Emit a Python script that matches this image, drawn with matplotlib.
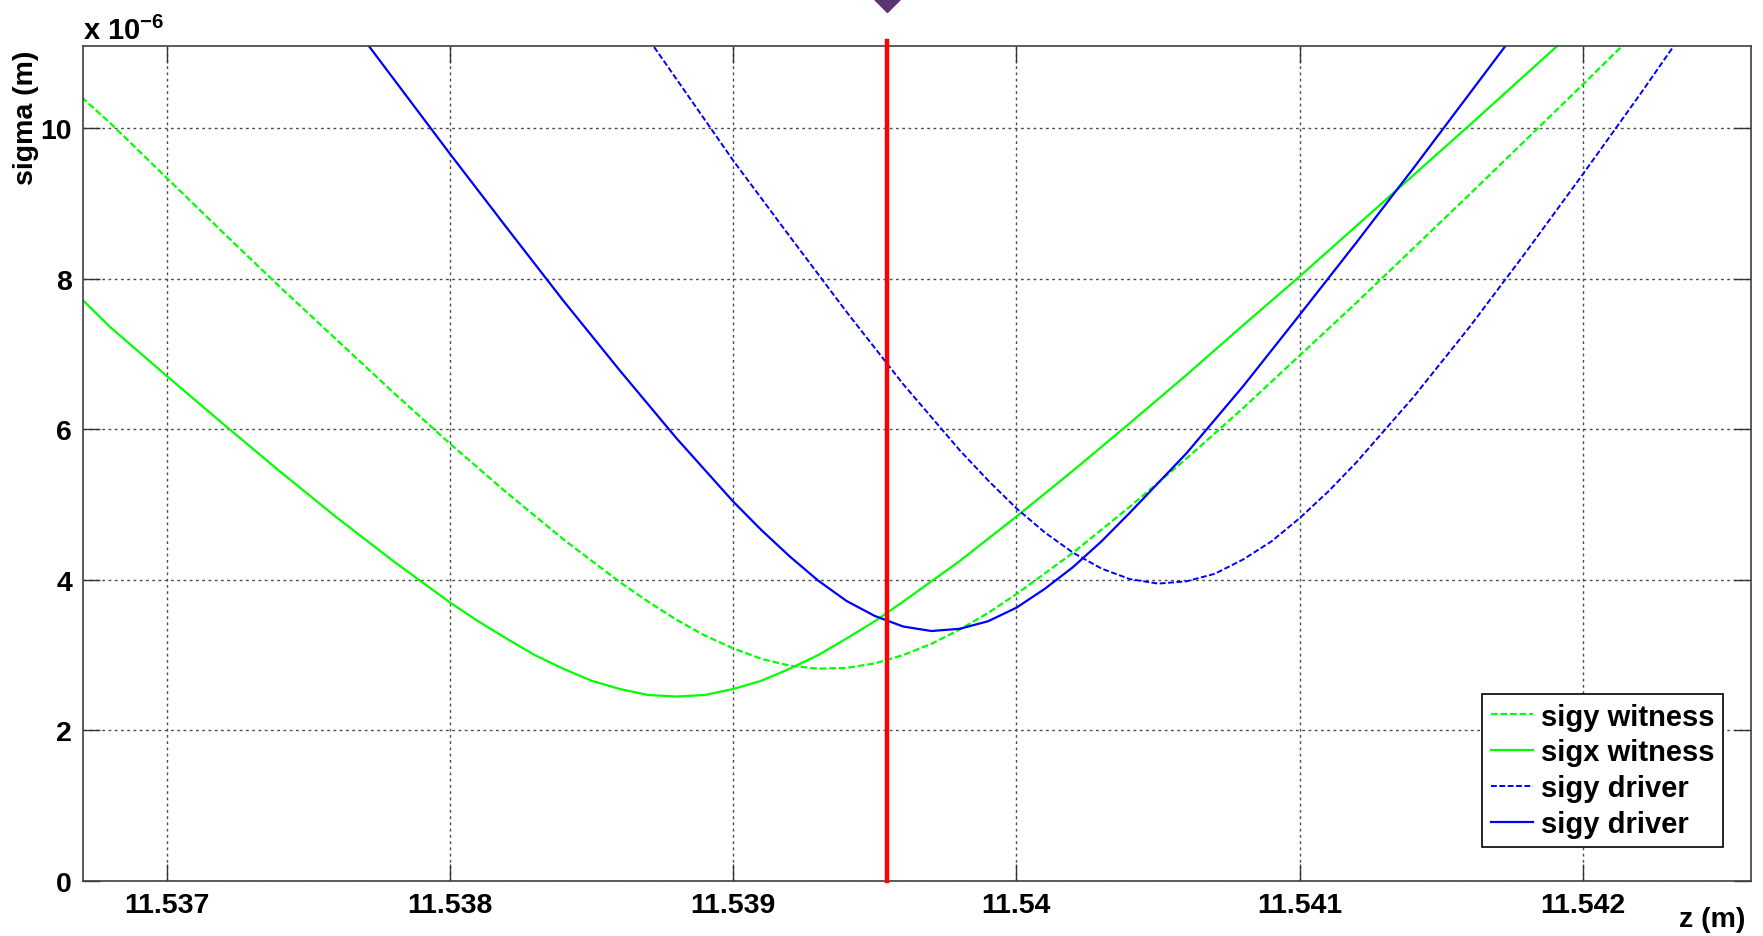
import matplotlib
matplotlib.use('Agg')
import numpy as np
import matplotlib.pyplot as plt
from matplotlib.transforms import blended_transform_factory

# data (z in m, sigma in units of 1e-6 m)
z_sigy_w = [11.5367, 11.5368, 11.5370, 11.5372, 11.5374, 11.5376, 11.5378, 11.5380,
            11.5382, 11.5384, 11.5386, 11.5387, 11.5388, 11.5389, 11.5390, 11.5391,
            11.5392, 11.5393, 11.5394, 11.5395, 11.5396, 11.5397, 11.5398, 11.5399,
            11.5400, 11.5402, 11.5404, 11.5406, 11.5408, 11.5410, 11.5412, 11.5414,
            11.5416, 11.5418, 11.5420, 11.5422]
s_sigy_w = [10.41, 10.07, 9.34, 8.61, 7.89, 7.19, 6.49, 5.81,
            5.16, 4.54, 3.97, 3.71, 3.47, 3.26, 3.09, 2.95,
            2.86, 2.82, 2.83, 2.89, 3.00, 3.15, 3.34, 3.56,
            3.81, 4.36, 4.97, 5.61, 6.28, 6.98, 7.68, 8.40,
            9.12, 9.85, 10.58, 11.32]

z_sigx_w = [11.5367, 11.5368, 11.5370, 11.5372, 11.5374, 11.5376, 11.5378, 11.5380,
            11.5381, 11.5382, 11.5383, 11.5384, 11.5385, 11.5386, 11.5387, 11.5388,
            11.5389, 11.5390, 11.5391, 11.5392, 11.5393, 11.5394, 11.5395, 11.5396,
            11.5398, 11.5400, 11.5402, 11.5404, 11.5406, 11.5408, 11.5410, 11.5412,
            11.5414, 11.5416, 11.5418, 11.5420]
s_sigx_w = [7.73, 7.36, 6.71, 6.07, 5.44, 4.83, 4.25, 3.70,
            3.45, 3.22, 3.00, 2.82, 2.66, 2.55, 2.47, 2.45,
            2.47, 2.55, 2.66, 2.82, 3.00, 3.22, 3.45, 3.71,
            4.25, 4.84, 5.45, 6.08, 6.72, 7.38, 8.03, 8.70,
            9.37, 10.04, 10.72, 11.40]

z_sigy_d1 = [11.5386, 11.5388, 11.5390, 11.5392, 11.5394, 11.5396, 11.5398, 11.5399,
             11.5400, 11.5401, 11.5402, 11.5403, 11.5404, 11.5405, 11.5406, 11.5407,
             11.5408, 11.5409, 11.5410, 11.5411, 11.5412, 11.5414, 11.5416, 11.5418,
             11.5420, 11.5422, 11.5424]
s_sigy_d1 = [11.73, 10.65, 9.57, 8.56, 7.56, 6.60, 5.72, 5.32,
             4.95, 4.63, 4.36, 4.15, 4.01, 3.95, 3.98, 4.08,
             4.27, 4.51, 4.82, 5.17, 5.56, 6.42, 7.36, 8.36,
             9.39, 10.44, 11.52]

z_sigy_d2 = [11.5376, 11.5378, 11.5380, 11.5382, 11.5384, 11.5386, 11.5388, 11.5390,
             11.5391, 11.5392, 11.5393, 11.5394, 11.5395, 11.5396, 11.5397, 11.5398,
             11.5399, 11.5400, 11.5401, 11.5402, 11.5403, 11.5404, 11.5406, 11.5408,
             11.5410, 11.5412, 11.5414, 11.5416, 11.5418]
s_sigy_d2 = [11.66, 10.66, 9.66, 8.68, 7.71, 6.78, 5.88, 5.04,
             4.66, 4.31, 3.99, 3.72, 3.52, 3.38, 3.32, 3.35,
             3.45, 3.63, 3.88, 4.17, 4.51, 4.89, 5.68, 6.57,
             7.52, 8.48, 9.46, 10.46, 11.46]

z_marker = 11.539543
xticks = [11.537, 11.538, 11.539, 11.540, 11.541, 11.542]
xtick_labels = ['11.537', '11.538', '11.539', '11.54', '11.541', '11.542']
yticks = [0, 2, 4, 6, 8, 10]

plt.rcParams['font.family'] = ['Liberation Sans', 'DejaVu Sans']
plt.rcParams['font.weight'] = 'bold'
plt.rcParams['mathtext.fontset'] = 'custom'
plt.rcParams['mathtext.bf'] = 'Liberation Sans:bold'
plt.rcParams['mathtext.rm'] = 'Liberation Sans:bold'

fig = plt.figure(figsize=(17.63, 9.37), dpi=100)
ax = fig.add_axes([83/1763, 55/937, (1751-83)/1763, (882-47)/937])

dash = (0, (3, 1.3))
ax.plot(z_sigy_w, s_sigy_w, color=(0, 1, 0), lw=1.6, linestyle=dash, label='sigy witness')
ax.plot(z_sigx_w, s_sigx_w, color=(0, 1, 0), lw=1.6, label='sigx witness')
ax.plot(z_sigy_d1, s_sigy_d1, color=(0, 0, 1), lw=1.4, linestyle=dash, label='sigy driver')
ax.plot(z_sigy_d2, s_sigy_d2, color=(0, 0, 1), lw=1.6, label='sigy driver')

# red cursor line, slightly above the axes
ax.plot([z_marker, z_marker], [0, 11.15], color='red', lw=3.2, clip_on=False, zorder=5)
trans = blended_transform_factory(ax.transData, fig.transFigure)
ax.plot([z_marker], [1.0], marker='D', ms=13, color='#5b3470', transform=trans,
        clip_on=False, zorder=6)

ax.set_xlim(11.536705, 11.542593)
ax.set_ylim(0, 11.09)
ax.set_xticks(xticks)
ax.set_xticklabels(xtick_labels)
ax.set_yticks(yticks)

ax.grid(True, color='0.3', linestyle=(0, (2, 2.5)), lw=1)
ax.tick_params(direction='in', length=12, width=1, top=True, right=True,
               labelsize=20.5, pad=8, color='0.2')
for lab in ax.get_xticklabels() + ax.get_yticklabels():
    lab.set_fontweight('bold')
for sp in ax.spines.values():
    sp.set_color('0.25')
    sp.set_linewidth(1.2)

leg = ax.legend(loc='lower right', bbox_to_anchor=(1 - 28/1668, 34/835), fontsize=21,
                frameon=True, fancybox=False, framealpha=1, edgecolor='black',
                handlelength=1.45, handletextpad=0.25, labelspacing=0.27,
                borderpad=0.3, borderaxespad=0)
leg.get_frame().set_linewidth(1.2)
for t in leg.get_texts():
    t.set_fontweight('bold')

fig.text(83/1763, 1 - 40/937, r'x 10$^{\mathbf{-6}}$', fontsize=21, fontweight='bold',
         ha='left', va='baseline')
fig.text(26/1763, 1 - 118/937, 'sigma (m)', rotation=90, fontsize=20.5, fontweight='bold',
         ha='center', va='center')
fig.text(1745/1763, 1 - 920/937, 'z (m)', fontsize=20.5, fontweight='bold',
         ha='right', va='center')

fig.savefig('out.png', dpi=100)
